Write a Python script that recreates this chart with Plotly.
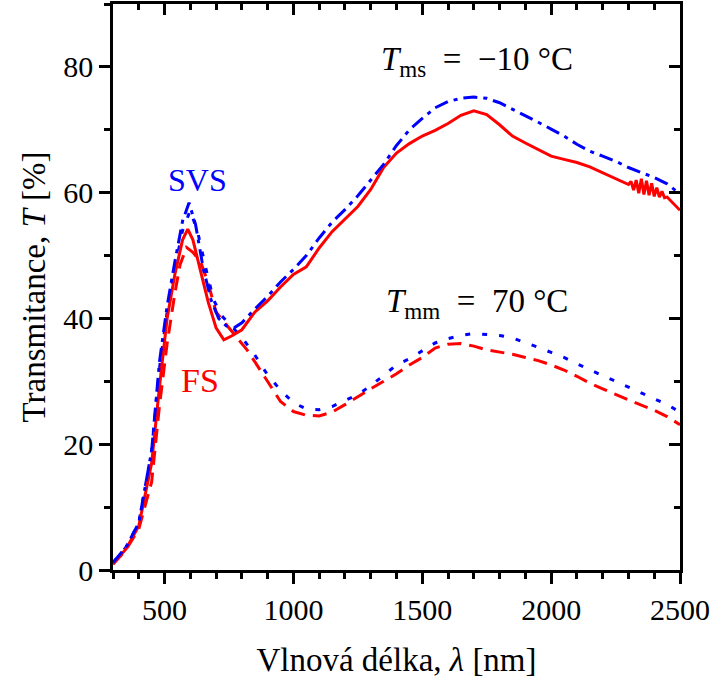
import plotly.graph_objects as go

# ---- data ----
x_fs_ms = [300, 350, 400, 450, 480, 510, 540, 570, 590, 610, 640, 670, 700, 730, 760, 800, 850, 900, 950,
           1000, 1050, 1100, 1150, 1200, 1250, 1300, 1350, 1400, 1450, 1500, 1550, 1600, 1650, 1700, 1750,
           1800, 1850, 1900, 1950, 2000, 2050, 2100, 2150, 2200, 2250, 2300, 2310, 2320, 2330, 2340, 2350,
           2360, 2370, 2380, 2390, 2400, 2410, 2420, 2430, 2440, 2450, 2500]
t_fs_ms = [1.0, 3.3, 7.0, 17.0, 29.0, 40.0, 47.0, 52.5, 54.2, 52.5, 47.5, 42.5, 38.5, 36.6, 37.2, 38.2, 41.0,
           42.8, 45.0, 47.0, 48.2, 51.2, 53.8, 55.8, 57.8, 60.5, 64.0, 66.3, 67.8, 69.0, 69.9, 71.0, 72.3,
           73.0, 72.4, 70.8, 69.0, 67.9, 66.8, 65.8, 65.3, 64.8, 64.1, 63.2, 62.3, 61.3, 61.8, 60.4, 62.0,
           59.9, 62.2, 59.7, 61.9, 59.6, 61.5, 59.4, 60.8, 59.3, 60.2, 59.2, 59.3, 57.2]

x_svs_ms = [300, 350, 400, 450, 480, 510, 540, 570, 595, 620, 650, 680, 710, 740, 770, 800, 850, 900, 950,
            1000, 1050, 1100, 1150, 1200, 1250, 1300, 1350, 1400, 1450, 1500, 1550, 1600, 1650, 1700, 1750,
            1800, 1850, 1900, 1950, 2000, 2050, 2100, 2150, 2200, 2250, 2300, 2350, 2400, 2450, 2500]
t_svs_ms = [1.2, 3.6, 7.5, 19.0, 33.0, 42.0, 49.0, 55.5, 58.4, 55.0, 48.0, 43.0, 40.0, 38.8, 38.5, 39.3, 41.5,
            43.5, 45.8, 47.8, 50.0, 52.8, 55.3, 57.3, 59.5, 62.0, 64.5, 67.5, 70.0, 71.8, 73.5, 74.5, 75.0,
            75.2, 75.0, 74.3, 73.3, 72.2, 71.2, 70.1, 69.0, 67.7, 66.6, 65.8, 65.0, 64.0, 63.2, 62.4, 61.4, 59.8]

x_svs_mm = [300, 350, 400, 450, 480, 510, 540, 570, 600, 630, 660, 690, 720, 760, 800, 850, 900, 950, 1000,
            1050, 1100, 1150, 1200, 1250, 1300, 1350, 1400, 1450, 1500, 1550, 1600, 1650, 1700, 1750, 1800,
            1850, 1900, 1950, 2000, 2050, 2100, 2150, 2200, 2250, 2300, 2350, 2400, 2450, 2500]
t_svs_mm = [1.2, 3.6, 7.5, 19.0, 32.0, 41.0, 48.0, 54.0, 57.2, 53.5, 48.0, 43.0, 40.5, 38.8, 37.0, 34.2, 31.0,
            28.6, 26.6, 25.6, 25.5, 26.0, 26.9, 27.9, 29.3, 31.0, 32.6, 33.6, 34.8, 36.1, 36.8, 37.3, 37.6,
            37.5, 37.3, 36.9, 36.2, 35.4, 34.6, 33.8, 32.8, 31.8, 30.9, 30.0, 29.1, 28.1, 27.2, 26.3, 25.1]

x_fs_mm = [300, 350, 400, 450, 480, 510, 540, 560, 585, 610, 640, 670, 700, 740, 780, 820, 860, 900, 950,
           1000, 1050, 1100, 1150, 1200, 1250, 1300, 1350, 1400, 1450, 1500, 1550, 1600, 1650, 1700, 1750,
           1800, 1850, 1900, 1950, 2000, 2050, 2100, 2150, 2200, 2250, 2300, 2350, 2400, 2450, 2500]
t_fs_mm = [0.9, 3.2, 6.5, 14.0, 26.0, 36.0, 44.0, 48.5, 51.3, 50.5, 49.0, 45.5, 41.0, 39.0, 37.0, 35.0, 32.5,
           30.0, 26.8, 25.2, 24.6, 24.5, 25.1, 26.3, 27.6, 28.8, 30.0, 31.2, 32.6, 33.8, 35.3, 35.9, 36.0,
           35.6, 35.0, 34.7, 34.3, 33.8, 33.3, 32.6, 31.8, 30.8, 29.7, 28.8, 27.9, 27.1, 26.2, 25.4, 24.4, 23.1]

x_ticks = [500, 1000, 1500, 2000, 2500]
y_ticks = [0, 20, 40, 60, 80]

FONT = "Liberation Serif"
BLUE = "#0000ff"
RED = "#ff0000"

fig = go.Figure()
fig.add_trace(go.Scatter(x=x_fs_mm, y=t_fs_mm, mode="lines",
                         line=dict(color=RED, width=3, dash="14px,8px"), showlegend=False))
fig.add_trace(go.Scatter(x=x_svs_mm, y=t_svs_mm, mode="lines",
                         line=dict(color=BLUE, width=3, dash="5px,12px"), showlegend=False))
fig.add_trace(go.Scatter(x=x_fs_ms, y=t_fs_ms, mode="lines",
                         line=dict(color=RED, width=3), showlegend=False))
fig.add_trace(go.Scatter(x=x_svs_ms, y=t_svs_ms, mode="lines",
                         line=dict(color=BLUE, width=3, dash="14px,6px,4px,6px"), showlegend=False))
# invisible trace to activate mirrored (top/right) axes
fig.add_trace(go.Scatter(x=[x_ticks[0]], y=[y_ticks[0]], xaxis="x2", yaxis="y2", mode="markers",
                         marker=dict(opacity=0), hoverinfo="skip", showlegend=False))

axis_common = dict(showline=True, linecolor="black", linewidth=2.5, showgrid=False, zeroline=False,
                   tickcolor="black", tickwidth=2.5)

fig.update_layout(
    width=711, height=693,
    margin=dict(l=113, r=31, t=4, b=123, autoexpand=False),
    plot_bgcolor="white", paper_bgcolor="white",
    font=dict(family=FONT, size=30, color="black"),
    xaxis=dict(range=[300, 2500], tickvals=x_ticks, ticks="outside", ticklen=11,
               minor=dict(dtick=100, tick0=0, ticks="outside", ticklen=6, tickwidth=2.5, tickcolor="black"),
               title=dict(text="Vlnová délka, <i>λ</i> [nm]", standoff=24, font=dict(size=33)),
               tickfont=dict(size=30), **axis_common),
    yaxis=dict(range=[0, 90], tickvals=y_ticks, ticks="outside", ticklen=11,
               minor=dict(dtick=10, tick0=0, ticks="outside", ticklen=6, tickwidth=2.5, tickcolor="black"),
               title=dict(text="Transmitance, <i>T</i> [%]", standoff=8, font=dict(size=33)),
               tickfont=dict(size=30), **axis_common),
    xaxis2=dict(range=[300, 2500], overlaying="x", side="top", tickvals=x_ticks, ticks="inside",
                ticklen=11, showticklabels=False,
                minor=dict(dtick=100, tick0=0, ticks="inside", ticklen=6, tickwidth=2.5, tickcolor="black"),
                **axis_common),
    yaxis2=dict(range=[0, 90], overlaying="y", side="right", tickvals=y_ticks, ticks="inside",
                ticklen=11, showticklabels=False,
                minor=dict(dtick=10, tick0=0, ticks="inside", ticklen=6, tickwidth=2.5, tickcolor="black"),
                **axis_common),
)

fig.add_annotation(x=627, y=62, text="SVS", showarrow=False, font=dict(color=BLUE, size=32, family=FONT))
fig.add_annotation(x=639, y=30.2, text="FS", showarrow=False, font=dict(color=RED, size=34, family=FONT))
fig.add_annotation(x=1711, y=80.8, text="<i>T</i><sub>ms</sub>  =  −10 °C", showarrow=False,
                   font=dict(color="black", size=33, family=FONT))
fig.add_annotation(x=1711, y=42.3, text="<i>T</i><sub>mm</sub>  =  70 °C", showarrow=False,
                   font=dict(color="black", size=33, family=FONT))

fig.write_html("out.html", config={"displayModeBar": False},
               post_script="document.body.style.margin='0';")
